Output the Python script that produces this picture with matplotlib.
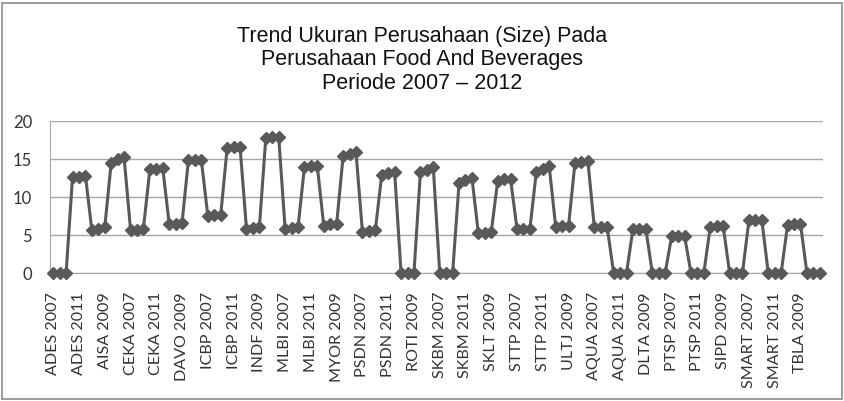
import matplotlib
matplotlib.use("Agg")
import matplotlib.pyplot as plt
from matplotlib.patches import Rectangle

companies = ["ADES", "AISA", "CEKA", "DAVO", "ICBP", "INDF", "MLBI", "MYOR", "PSDN", "ROTI",
             "SKBM", "SKLT", "STTP", "ULTJ", "AQUA", "DLTA", "PTSP", "SIPD", "SMART", "TBLA"]
years = [2007, 2008, 2009, 2010, 2011, 2012]

size_values = [
    0, 0, 0, 12.6, 12.6, 12.8,          # ADES
    5.6, 5.8, 6.0, 14.5, 15.0, 15.2,    # AISA
    5.7, 5.7, 5.8, 13.6, 13.7, 13.8,    # CEKA
    6.5, 6.5, 6.6, 14.9, 14.8, 14.8,    # DAVO
    7.5, 7.6, 7.6, 16.4, 16.6, 16.6,    # ICBP
    5.8, 5.9, 6.0, 17.7, 17.8, 17.9,    # INDF
    5.8, 5.9, 6.0, 13.9, 14.0, 14.0,    # MLBI
    6.2, 6.4, 6.5, 15.3, 15.6, 15.9,    # MYOR
    5.4, 5.5, 5.6, 12.9, 13.1, 13.3,    # PSDN
    0, 0, 0, 13.2, 13.5, 13.9,          # ROTI
    0, 0, 0, 11.8, 12.2, 12.5,          # SKBM
    5.2, 5.3, 5.4, 12.1, 12.3, 12.3,    # SKLT
    5.8, 5.8, 5.8, 13.3, 13.7, 14.0,    # STTP
    6.1, 6.2, 6.2, 14.5, 14.6, 14.7,    # ULTJ
    6.0, 6.0, 6.0, 0, 0, 0,             # AQUA
    5.8, 5.8, 5.8, 0, 0, 0,             # DLTA
    4.8, 4.9, 4.9, 0, 0, 0,             # PTSP
    6.1, 6.2, 6.2, 0, 0, 0,             # SIPD
    6.9, 7.0, 7.0, 0, 0, 0,             # SMART
    6.3, 6.4, 6.5, 0, 0, 0,             # TBLA
]

categories = [f"{c} {y}" for c in companies for y in years]
y_ticks = [0, 5, 10, 15, 20]
title = "Trend Ukuran Perusahaan (Size) Pada\nPerusahaan Food And Beverages\nPeriode 2007 \u2013 2012"

W, H = 844, 402
fig = plt.figure(figsize=(W / 100, H / 100), dpi=100)
fig.patch.set_facecolor("white")
ax = fig.add_axes([50 / W, 1 - 274 / H, (823 - 50) / W, (274 - 121.7) / H])

x = list(range(len(categories)))
ax.plot(x, size_values, color="#595959", linewidth=2.2, marker="D", markersize=6,
        markerfacecolor="#595959", markeredgecolor="#595959", zorder=3, clip_on=False)

ax.set_xlim(-0.5, len(categories) - 0.5)
ax.set_ylim(0, 20)
ax.set_yticks(y_ticks)
ax.set_yticklabels([str(v) for v in y_ticks], fontsize=12, family="Lato", color="#333333")
ax.set_xticks(x[::4])
ax.set_xticklabels(categories[::4], rotation=90, fontsize=11.6, family="Lato", color="#333333")
ax.tick_params(axis="both", length=0)
ax.tick_params(axis="x", pad=13)
ax.tick_params(axis="y", pad=13)

ax.grid(axis="y", color="#A6A6A6", linewidth=1.0)
ax.set_axisbelow(True)
for s in ["top", "right"]:
    ax.spines[s].set_visible(False)
ax.spines["left"].set_color("#A6A6A6")
ax.spines["bottom"].set_color("#A6A6A6")

fig.text(0.5, 1 - 60 / H, title, ha="center", va="center", fontsize=15.5,
         family="Liberation Sans", color="#111111", linespacing=1.18)

fig.patches.append(Rectangle((2 / W, 2 / H), (W - 4) / W, (H - 6) / H, transform=fig.transFigure,
                             fill=False, edgecolor="#8C8C8C", linewidth=1.2))

fig.savefig("out.png", dpi=100)
